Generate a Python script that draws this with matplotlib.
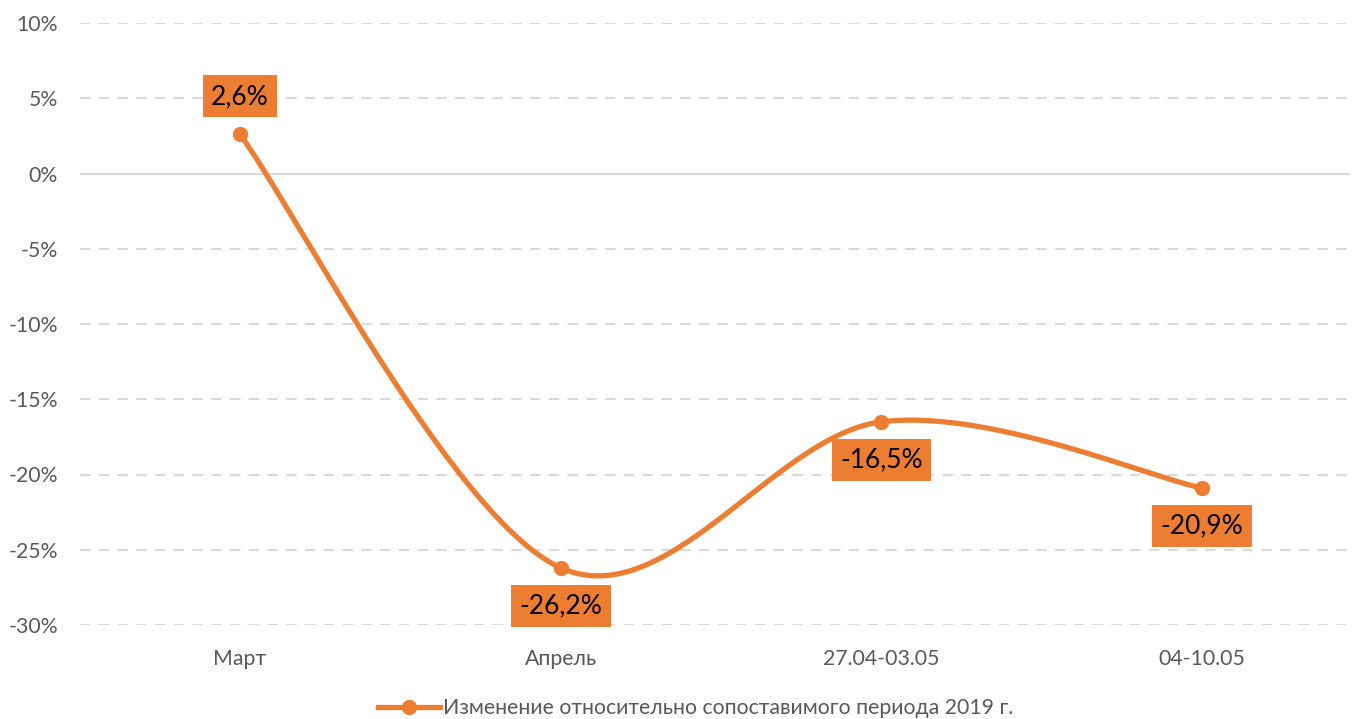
import numpy as np
import matplotlib
matplotlib.use("Agg")
import matplotlib.pyplot as plt

categories = ["Март", "Апрель", "27.04-03.05", "04-10.05"]
values = [2.6, -26.2, -16.5, -20.9]
labels = ["2,6%", "-26,2%", "-16,5%", "-20,9%"]
label_above = [True, False, False, False]
yticks = [10, 5, 0, -5, -10, -15, -20, -25, -30]
series_name = "Изменение относительно сопоставимого периода 2019 г."

orange = "#ED7D31"
gray = "#595959"

plt.rcParams['font.family'] = ['Lato', 'DejaVu Sans']


def smooth(xs, ys, n=60):
    # Excel-like smoothed line: cubic bezier through the points
    p = np.column_stack([xs, ys]).astype(float)
    ext = np.vstack([p[0], p, p[-1]])
    out = []
    t = np.linspace(0, 1, n)[:, None]
    for i in range(len(p) - 1):
        p0, p3 = ext[i + 1], ext[i + 2]
        c1 = p0 + (ext[i + 2] - ext[i]) / 6
        c2 = p3 - (ext[i + 3] - ext[i + 1]) / 6
        seg = ((1 - t) ** 3) * p0 + 3 * ((1 - t) ** 2) * t * c1 + 3 * (1 - t) * t ** 2 * c2 + t ** 3 * p3
        out.append(seg)
    s = np.vstack(out)
    return s[:, 0], s[:, 1]


fig = plt.figure(figsize=(13.56, 7.19), dpi=100)
ax = fig.add_axes([80 / 1356, 94 / 719, 1270 / 1356, 602 / 719])

x = np.arange(len(categories))
unit = 320.7
ax.set_xlim(-160 / unit, 3 + 148 / unit)
ax.set_ylim(-30, 10)

for yv in yticks:
    if yv == 0:
        ax.axhline(yv, color="#D9D9D9", lw=1.5, zorder=1)
    else:
        ax.axhline(yv, color="#D9D9D9", lw=1.5, ls=(0, (5, 4)), zorder=1)

sx, sy = smooth(x, values)
ax.plot(sx, sy, color=orange, lw=3.8, solid_capstyle="round", zorder=3)
ax.plot(x, values, "o", color=orange, ms=10, zorder=4)

for xi, v, lab, up in zip(x, values, labels, label_above):
    off = 38 if up else -38
    ax.annotate(lab, (xi, v), xytext=(0, off), textcoords="offset pixels",
                ha="center", va="center", fontsize=19, color="black", zorder=5,
                bbox=dict(boxstyle="square,pad=0.32", fc=orange, ec="none"))

ax.set_yticks(yticks)
ax.set_yticklabels([f"{t}%" for t in yticks])
ax.set_xticks(x)
ax.set_xticklabels(categories)
ax.tick_params(axis="both", length=0, labelsize=15.3, colors=gray)
ax.tick_params(axis="x", pad=17)
ax.tick_params(axis="y", pad=16)
for sp in ax.spines.values():
    sp.set_visible(False)

fig.legend([plt.Line2D([], [], color=orange, lw=3.8, marker="o", ms=10)],
           [series_name], loc="center", bbox_to_anchor=(696 / 1356, 11 / 719),
           frameon=False, fontsize=15.3, labelcolor=gray, handlelength=2.9,
           handletextpad=0.15)

fig.savefig("out.png", dpi=100)
